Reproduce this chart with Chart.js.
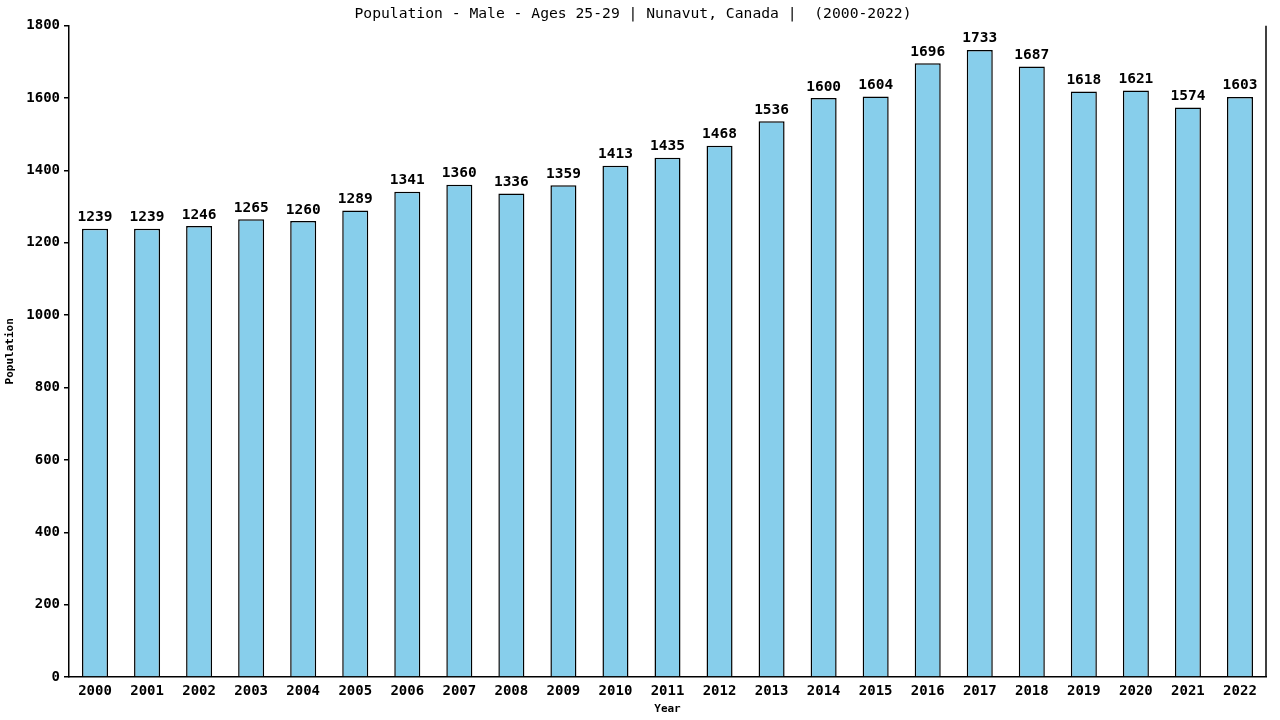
<!DOCTYPE html>
<html>
<head>
<meta charset="utf-8">
<script src="https://cdn.jsdelivr.net/npm/chart.js@4/dist/chart.umd.min.js"></script>
<style>
  html, body { margin: 0; padding: 0; background: #fff; }
  #wrap { width: 1280px; height: 720px; }
</style>
</head>
<body>
<div id="wrap"><canvas id="chart" width="1280" height="720"></canvas></div>
<script>
// datos
const years = ['2000','2001','2002','2003','2004','2005','2006','2007','2008','2009','2010','2011',
  '2012','2013','2014','2015','2016','2017','2018','2019','2020','2021','2022'];
const population = [1239, 1239, 1246, 1265, 1260, 1289, 1341, 1360, 1336, 1359, 1413, 1435,
  1468, 1536, 1600, 1604, 1696, 1733, 1687, 1618, 1621, 1574, 1603];
const yTicks = [0, 200, 400, 600, 800, 1000, 1200, 1400, 1600, 1800];

const chartTitle = 'Population - Male - Ages 25-29 | Nunavut, Canada |  (2000-2022)';
const fontMono = '"DejaVu Sans Mono", "Liberation Mono", monospace';

// etiquetas encima de cada barra + borde derecho
const extrasPlugin = {
  id: 'extras',
  afterDatasetsDraw(chart) {
    const ctx = chart.ctx;
    const meta = chart.getDatasetMeta(0);
    ctx.save();
    ctx.fillStyle = '#000';
    ctx.font = 'bold 14.5px ' + fontMono;
    ctx.textAlign = 'center';
    ctx.textBaseline = 'bottom';
    meta.data.forEach((bar, i) => {
      ctx.fillText(String(population[i]), bar.x, bar.y - 4);
    });
    const area = chart.chartArea;
    ctx.strokeStyle = '#000';
    ctx.lineWidth = 1.5;
    ctx.beginPath();
    ctx.moveTo(area.right, area.top);
    ctx.lineTo(area.right, area.bottom);
    ctx.stroke();
    ctx.restore();
  }
};

new Chart(document.getElementById('chart'), {
  type: 'bar',
  data: {
    labels: years,
    datasets: [{
      label: 'Population',
      data: population,
      backgroundColor: '#87CEEB',
      borderColor: '#000',
      borderWidth: 1.5,
      barPercentage: 0.5,
      categoryPercentage: 1.0
    }]
  },
  options: {
    responsive: false,
    animation: false,
    devicePixelRatio: 1,
    layout: { padding: { left: 0, right: 14, top: 0, bottom: 0 } },
    plugins: {
      legend: { display: false },
      tooltip: { enabled: false },
      title: {
        display: true,
        text: chartTitle,
        color: '#000',
        font: { family: fontMono, size: 14.7, weight: 'normal' },
        padding: { top: 5, bottom: 3 }
      }
    },
    scales: {
      x: {
        grid: { display: false, drawTicks: false },
        border: { display: true, color: '#000', width: 1.5 },
        ticks: { color: '#000', font: { family: fontMono, size: 14, weight: 'bold' }, padding: 6, maxRotation: 0 },
        title: { display: true, text: 'Year', color: '#000', font: { family: fontMono, size: 11, weight: 'bold' }, padding: { top: 2 } },
        afterFit(scale) { scale.height = 43; }
      },
      y: {
        min: 0,
        max: 1800,
        afterBuildTicks(scale) { scale.ticks = yTicks.map(v => ({ value: v })); },
        grid: { display: true, drawOnChartArea: false, drawTicks: true, tickLength: 5, color: '#000', lineWidth: 1.5 },
        border: { display: true, color: '#000', width: 1.5 },
        ticks: {
          color: '#000',
          font: { family: fontMono, size: 14, weight: 'bold' },
          padding: 4,
          callback: (v) => String(v)
        },
        title: { display: true, text: 'Population', color: '#000', font: { family: fontMono, size: 11, weight: 'bold' }, padding: { bottom: 4 } },
        afterFit(scale) { scale.width = 69; }
      }
    }
  },
  plugins: [extrasPlugin]
});
</script>
</body>
</html>
